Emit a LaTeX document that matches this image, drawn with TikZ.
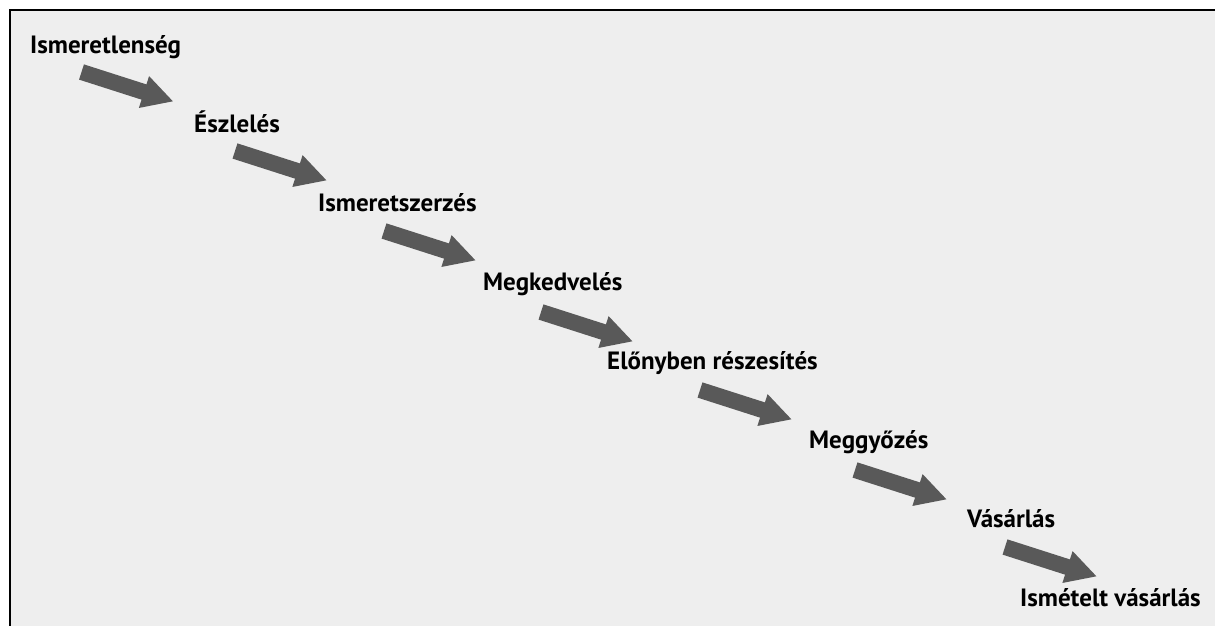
\documentclass[tikz,border=0pt]{standalone}
\usepackage{fontspec}
\setmainfont{PT Sans}
\usetikzlibrary{arrows.meta}
\definecolor{bgray}{HTML}{EEEEEE}
\definecolor{agray}{HTML}{595959}
\begin{document}
\begin{tikzpicture}[x=1pt,y=-1pt,step lbl/.style={anchor=base west,inner sep=0pt,font=\bfseries\fontsize{25}{28}\selectfont},fatarr/.style={agray,line width=16pt,-{Triangle[width=31pt,length=31pt]}}]
\def\ax{92};
\def\ay{29.5};

\useasboundingbox (0,0) rectangle (1215,626);
\fill[bgray] (10,10) rectangle (1215,626);
\draw[line width=1.5pt] (10,626) -- (10,10) -- (1215,10);

\node[step lbl] (S1) at (30,53) {Ismeretlenség};
\node[step lbl] (S2) at (194,132) {Észlelés};
\node[step lbl] (S3) at (318,211) {Ismeretszerzés};
\node[step lbl] (S4) at (483,290) {Megkedvelés};
\node[step lbl] (S5) at (607,369) {Előnyben részesítés};
\node[step lbl] (S6) at (809,448) {Meggyőzés};
\node[step lbl] (S7) at (967,527) {Vásárlás};
\node[step lbl] (S8) at (1020,606) {Ismételt vásárlás};

\coordinate (A1) at (81.5,72);
\coordinate (B1) at ([shift={(\ax,\ay)}]A1);
\draw[fatarr] (A1) -- (B1);
\coordinate (A2) at (235,151);
\coordinate (B2) at ([shift={(\ax,\ay)}]A2);
\draw[fatarr] (A2) -- (B2);
\coordinate (A3) at (384,231);
\coordinate (B3) at ([shift={(\ax,\ay)}]A3);
\draw[fatarr] (A3) -- (B3);
\coordinate (A4) at (541,312);
\coordinate (B4) at ([shift={(\ax,\ay)}]A4);
\draw[fatarr] (A4) -- (B4);
\coordinate (A5) at (700,390);
\coordinate (B5) at ([shift={(\ax,\ay)}]A5);
\draw[fatarr] (A5) -- (B5);
\coordinate (A6) at (855,470);
\coordinate (B6) at ([shift={(\ax,\ay)}]A6);
\draw[fatarr] (A6) -- (B6);
\coordinate (A7) at (1005,547);
\coordinate (B7) at ([shift={(\ax,\ay)}]A7);
\draw[fatarr] (A7) -- (B7);
\end{tikzpicture}
\end{document}
